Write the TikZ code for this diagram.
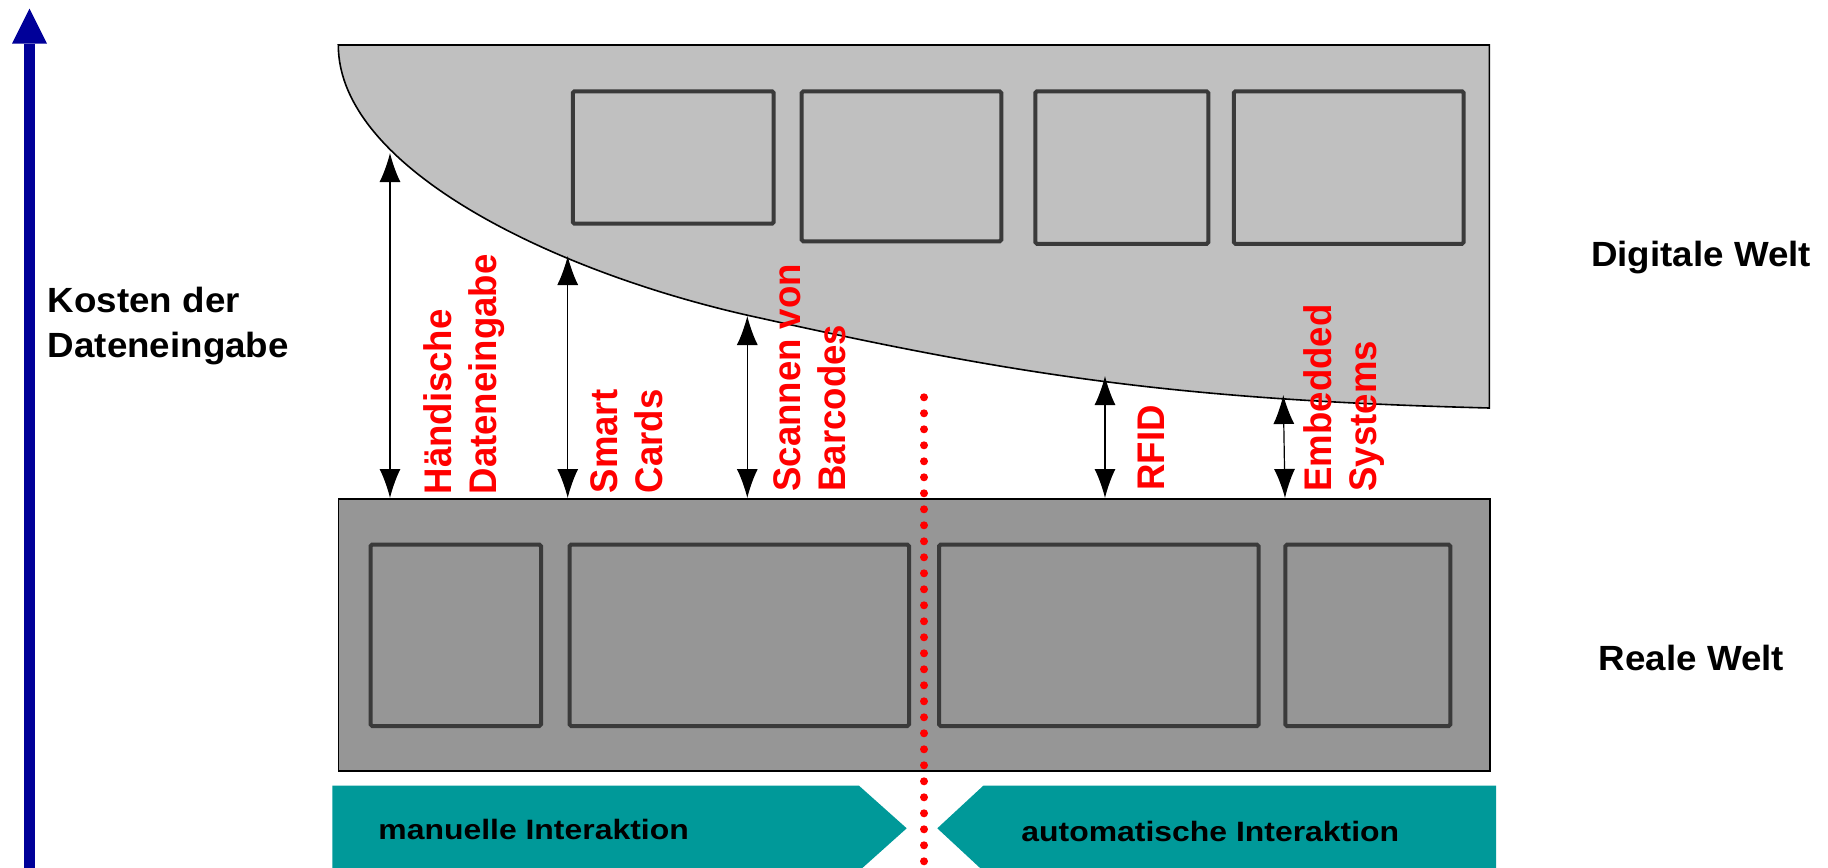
\documentclass[tikz,border=0pt]{standalone}
\usepackage{fontspec}
\setmainfont{Liberation Sans}
\newfontfamily\worldfont[FakeStretch=1.05]{Liberation Sans}
\newfontfamily\techfont[FakeStretch=0.95]{Liberation Sans}
\newfontfamily\modefont[FakeStretch=1.14]{Liberation Sans}
\usetikzlibrary{arrows.meta}
\definecolor{digigray}{RGB}{192,192,192}
\definecolor{realgray}{RGB}{150,150,150}
\definecolor{frameline}{RGB}{58,58,58}
\definecolor{modeteal}{RGB}{0,153,153}
\definecolor{costblue}{RGB}{0,0,153}

\begin{document}
\begin{tikzpicture}[x=0.5pt,y=-0.5pt]
		\tikzstyle{frame}=[rectangle, draw=frameline, line width=2pt, rounded corners=0.8pt, inner sep=0pt]
		\tikzstyle{connect}=[{Latex[length=14.5pt,width=10.5pt]}-{Latex[length=14.5pt,width=10.5pt]}, line width=0.6pt]
		\tikzstyle{tech}=[rotate=90, anchor=north west, inner sep=0pt, align=left, text=red, font=\techfont\bfseries\fontsize{19.25}{22.5}\selectfont]
		\tikzstyle{world}=[inner sep=0pt, align=left, font=\worldfont\bfseries\fontsize{17.5}{22.5}\selectfont]
		\tikzstyle{mode}=[anchor=base west, inner sep=0pt, font=\modefont\bfseries\fontsize{14}{16}\selectfont]
		\useasboundingbox (0,0) rectangle (1828,868);
		\draw[fill=digigray, line width=0.8pt] (338.3,45) -- (1489.3,45) -- (1489.3,408)
			.. controls (1180,400) and (1020,376) .. (760,318)
			.. controls (560,275) and (338.3,170) .. (338.3,45) -- cycle;
		\node[frame, minimum width=100.45pt, minimum height=66.2pt] (d1) at (673.25,157.5) {};
		\node[frame, minimum width=99.8pt, minimum height=75pt] (d2) at (901.5,166.3) {};
		\node[frame, minimum width=86.5pt, minimum height=76.25pt] (d3) at (1121.8,167.55) {};
		\node[frame, minimum width=114.95pt, minimum height=76.25pt] (d4) at (1348.75,167.55) {};
		\node[rectangle, draw=black, fill=realgray, line width=0.8pt, inner sep=0pt, minimum width=575.85pt, minimum height=136pt] (real) at (914.15,635) {};
		\node[frame, minimum width=85.25pt, minimum height=90.65pt] (r1) at (455.75,635.35) {};
		\node[frame, minimum width=169.75pt, minimum height=90.65pt] (r2) at (739.25,635.35) {};
		\node[frame, minimum width=159.85pt, minimum height=90.65pt] (r3) at (1098.85,635.35) {};
		\node[frame, minimum width=82.5pt, minimum height=90.65pt] (r4) at (1367.8,635.35) {};
		\coordinate (handT) at (390,153);
		\coordinate (handB) at (390,498);
		\coordinate (cardT) at (567.7,256);
		\coordinate (cardB) at (567.7,498);
		\coordinate (codeT) at (747.3,316);
		\coordinate (codeB) at (747.3,498);
		\coordinate (rfidT) at (1105,376);
		\coordinate (rfidB) at (1105,498);
		\coordinate (embT) at (1283.3,395);
		\coordinate (embB) at (1285,498);
		\path (handT) edge [connect] (handB)
		(cardT) edge [connect] (cardB)
		(codeT) edge [connect] (codeB)
		(rfidT) edge [connect] (rfidB)
		(embT) edge [connect] (embB);
		\node[tech] (hand) at (423,494.8) {Händische\\Dateneingabe};
		\node[tech] (card) at (590,493.7) {Smart\\Cards};
		\node[tech] (code) at (773,492) {Scannen von\\Barcodes};
		\node[tech] (rfid) at (1137.3,491) {RFID};
		\node[tech] (emb) at (1303,491.8) {Embedded\\Systems};
		\node[world, anchor=north west] (cost) at (47.5,286.7) {Kosten der\\Dateneingabe};
		\node[world, anchor=base west] (digi) at (1590.7,266.7) {Digitale Welt};
		\node[world, anchor=base west] (reale) at (1598.4,670) {Reale Welt};
		\coordinate (axisB) at (29.5,870);
		\coordinate (axisT) at (29.5,8.5);
		\draw[costblue, line width=5.85pt, -{Triangle[length=17.5pt,width=17.5pt,line width=0pt]}] (axisB) -- (axisT);
		\fill[modeteal] (332.3,785.7) -- (859,785.7) -- (906.7,828.3) -- (859,871) -- (332.3,871) -- cycle;
		\fill[modeteal] (1496,785.7) -- (983.3,785.7) -- (937.3,828.3) -- (983.3,871) -- (1496,871) -- cycle;
		\node[mode] (manual) at (378,839.3) {manuelle Interaktion};
		\node[mode] (auto) at (1021,841.7) {automatische Interaktion};
		\coordinate (splitT) at (924,397.3);
		\coordinate (splitB) at (924,870);
		\draw[red, line width=4pt, line cap=round, dash pattern=on 0pt off 8pt] (splitT) -- (splitB);
\end{tikzpicture}
\end{document}
